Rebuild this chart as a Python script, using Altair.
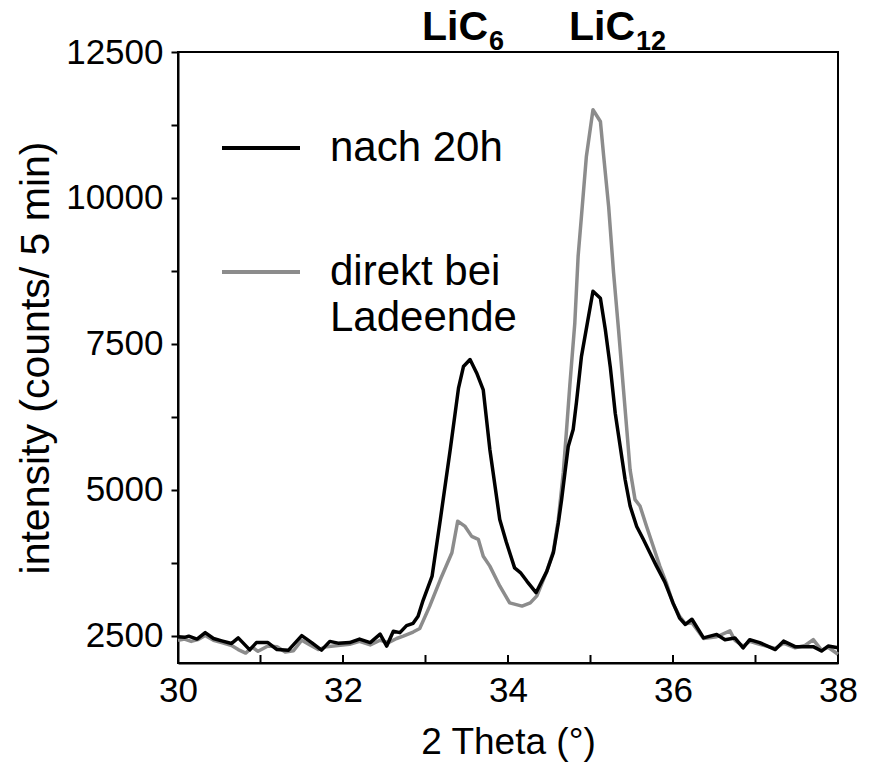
import altair as alt
import pandas as pd

# ---- data ----
x_black = [30.00, 30.08, 30.13, 30.23, 30.33, 30.43, 30.53, 30.65, 30.73, 30.87,
           30.95, 31.09, 31.20, 31.34, 31.50, 31.62, 31.74, 31.84, 31.94, 32.08,
           32.20, 32.33, 32.45, 32.53, 32.61, 32.69, 32.77, 32.85, 32.91, 32.97,
           33.08, 33.18, 33.30, 33.40, 33.46, 33.54, 33.62, 33.70, 33.78, 33.90,
           33.98, 34.08, 34.15, 34.23, 34.34, 34.47, 34.55, 34.61, 34.65, 34.69,
           34.73, 34.79, 34.83, 34.89, 35.03, 35.12, 35.18, 35.24, 35.30, 35.36,
           35.42, 35.48, 35.56, 35.64, 35.72, 35.80, 35.90, 36.00, 36.08, 36.15,
           36.23, 36.37, 36.53, 36.63, 36.75, 36.85, 36.93, 37.05, 37.24, 37.34,
           37.48, 37.70, 37.80, 37.88, 38.00]
y_black = [2480, 2470, 2490, 2440, 2550, 2450, 2410, 2365, 2460, 2255,
           2380, 2380, 2260, 2250, 2500, 2380, 2250, 2400, 2370, 2380,
           2440, 2380, 2525, 2320, 2575, 2550, 2670, 2710, 2830, 3100,
           3520, 4490, 5690, 6740, 7110, 7230, 7000, 6710, 5690, 4490,
           4100, 3660, 3580, 3430, 3235, 3600, 3920, 4430, 4830, 5290,
           5740, 6030, 6500, 7280, 8400, 8280, 7740, 7100, 6310, 5740,
           5170, 4720, 4370, 4150, 3920, 3690, 3420, 3060, 2800, 2690,
           2780, 2460, 2520, 2430, 2460, 2290, 2430, 2380, 2260, 2405,
           2310, 2310, 2235, 2320, 2290]

x_gray = [30.00, 30.08, 30.16, 30.24, 30.33, 30.43, 30.53, 30.65, 30.73, 30.82,
          30.90, 30.97, 31.09, 31.20, 31.30, 31.40, 31.50, 31.60, 31.70, 31.80,
          31.94, 32.08, 32.20, 32.33, 32.45, 32.55, 32.65, 32.73, 32.85, 32.93,
          33.05, 33.18, 33.32, 33.39, 33.48, 33.56, 33.64, 33.70, 33.78, 33.90,
          34.02, 34.17, 34.27, 34.35, 34.47, 34.55, 34.61, 34.67, 34.71, 34.75,
          34.81, 34.85, 34.89, 34.95, 35.03, 35.12, 35.16, 35.22, 35.28, 35.34,
          35.40, 35.44, 35.48, 35.54, 35.60, 35.68, 35.76, 35.84, 35.92, 36.00,
          36.08, 36.15, 36.23, 36.37, 36.53, 36.69, 36.75, 36.85, 36.93, 37.05,
          37.24, 37.34, 37.48, 37.60, 37.70, 37.80, 37.88, 38.00]
y_gray = [2420, 2440, 2400, 2430, 2500, 2420, 2380, 2330, 2260, 2200,
          2300, 2230, 2320, 2310, 2220, 2240, 2420, 2340, 2260, 2310,
          2330, 2350, 2400, 2340, 2420, 2380, 2450, 2490, 2560, 2620,
          3000, 3460, 3920, 4460, 4370, 4200, 4150, 3860, 3690, 3350,
          3060, 3005, 3060, 3180, 3600, 3950, 4490, 5290, 6030, 6800,
          7860, 9000, 9680, 10710, 11510, 11310, 10710, 9850, 8710, 7740,
          6710, 6030, 5340, 4830, 4720, 4370, 4030, 3690, 3400, 3050,
          2830, 2700, 2720, 2450, 2480, 2580, 2420, 2320, 2400, 2350,
          2280, 2370, 2290, 2330, 2430, 2250, 2300, 2180]

x_tick_values = [30, 31, 32, 33, 34, 35, 36, 37, 38]
x_label_values = [30, 32, 34, 36, 38]
y_tick_values = [2500, 3750, 5000, 6250, 7500, 8750, 10000, 11250, 12500]

legend_labels = ["nach 20h", "direkt bei", "Ladeende"]
peak_names = ["LiC", "LiC"]
peak_subs = ["6", "12"]

# ---- layout ----
W, H = 660, 611
FONT = "Liberation Sans"
BLACK = "#000000"
GRAY = "#8c8c8c"

df_black = pd.DataFrame({"x": x_black, "y": y_black})
df_gray = pd.DataFrame({"x": x_gray, "y": y_gray})

xscale = alt.Scale(domain=[30, 38], nice=False, zero=False)
yscale = alt.Scale(domain=[2030, 12500], nice=False, zero=False)

x_axis = alt.Axis(
    title="2 Theta (°)", values=x_label_values, format="d", ticks=False,
    grid=False, domainColor=BLACK, domainWidth=2, labelFont=FONT,
    labelFontSize=35, labelColor=BLACK, labelPadding=10, labelFlush=False,
    titleFont=FONT, titleFontSize=37, titleFontWeight="normal",
    titleColor=BLACK, titlePadding=16,
)
y_axis = alt.Axis(
    title="intensity (counts/ 5 min)", values=y_tick_values,
    labelExpr="datum.value % 2500 == 0 ? format(datum.value, 'd') : ''",
    grid=False, domainColor=BLACK, domainWidth=2, tickColor=BLACK,
    tickWidth=2, tickSize=7, labelFont=FONT, labelFontSize=35,
    labelColor=BLACK, labelPadding=8, labelFlush=False, titleFont=FONT,
    titleFontSize=41, titleFontWeight="normal", titleColor=BLACK,
    titlePadding=8,
)

gray_line = alt.Chart(df_gray).mark_line(
    color=GRAY, strokeWidth=3.5, strokeJoin="round"
).encode(
    x=alt.X("x:Q", scale=xscale, axis=x_axis),
    y=alt.Y("y:Q", scale=yscale, axis=y_axis),
)
black_line = alt.Chart(df_black).mark_line(
    color=BLACK, strokeWidth=3.5, strokeJoin="round"
).encode(
    x=alt.X("x:Q", scale=xscale),
    y=alt.Y("y:Q", scale=yscale),
)

# inward x ticks
ticks = alt.Chart(pd.DataFrame({"t": x_tick_values})).mark_rule(
    color=BLACK, strokeWidth=2
).encode(
    x=alt.X("t:Q", scale=xscale),
    y=alt.value(H),
    y2=alt.value(H - 8),
)

# legend
leg_lines = alt.Chart(pd.DataFrame({
    "y": [96, 220], "c": [BLACK, GRAY]
})).mark_rule(strokeWidth=4).encode(
    x=alt.value(44), x2=alt.value(122),
    y=alt.Y("y:Q", scale=None),
    color=alt.Color("c:N", scale=None),
)
leg_text = alt.Chart(pd.DataFrame({
    "t": legend_labels, "y": [96, 220, 266]
})).mark_text(
    font=FONT, fontSize=42, align="left", baseline="middle", color=BLACK
).encode(
    x=alt.value(152), y=alt.Y("y:Q", scale=None), text="t:N",
)

# peak labels
peak_main = alt.Chart(pd.DataFrame({
    "t": peak_names, "px": [310, 457]
})).mark_text(
    font=FONT, fontSize=41, fontWeight="bold", align="right",
    baseline="alphabetic", color=BLACK
).encode(
    x=alt.X("px:Q", scale=None), y=alt.value(-12), text="t:N",
)
peak_sub = alt.Chart(pd.DataFrame({
    "t": peak_subs, "px": [311, 458]
})).mark_text(
    font=FONT, fontSize=27, fontWeight="bold", align="left",
    baseline="alphabetic", color=BLACK
).encode(
    x=alt.X("px:Q", scale=None), y=alt.value(-2), text="t:N",
)

chart = alt.layer(
    gray_line, black_line, ticks, leg_lines, leg_text, peak_main, peak_sub
).properties(
    width=W, height=H,
    autosize=alt.AutoSizeParams(type="none"),
    padding={"left": 178, "top": 52, "right": 35, "bottom": 108},
    background="white",
).configure_view(
    stroke=BLACK, strokeWidth=2
)

chart.save("out.html", embed_options={"renderer": "svg", "actions": False})
